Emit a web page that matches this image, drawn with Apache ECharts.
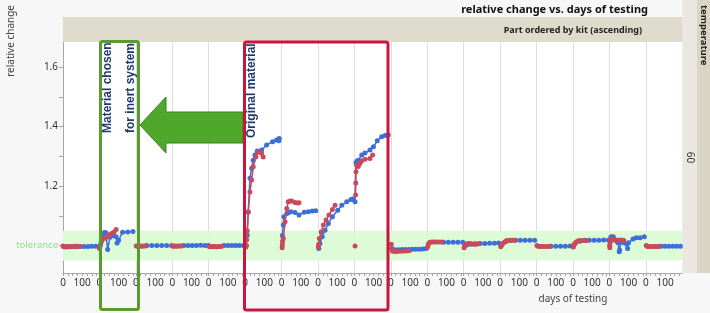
<!DOCTYPE html>
<html>
<head>
<meta charset="utf-8">
<script src="https://cdn.jsdelivr.net/npm/echarts@6/dist/echarts.min.js"></script>
<style>
html,body{margin:0;padding:0;background:#f7f7f7;}
#chart{width:710px;height:313px;}
</style>
</head>
<body>
<div id="chart"></div>
<script>
// ---------------- data ----------------
const titleText = 'relative change vs. days of testing';
const stripTitle = 'Part ordered by kit (ascending)';
const rowHeader = 'temperature';
const rowLabel = '60';
const yAxisTitle = 'relative change';
const xAxisTitle = 'days of testing';
const xTickLabels = [0, 100];
const xTickMarks = [0, 25, 50, 75, 100, 125, 150, 175];
const yTickLabels = [1.0, 1.2, 1.4, 1.6];
const yTickMarks = [1.0, 1.1, 1.2, 1.3, 1.4, 1.5, 1.6];
const toleranceLabel = 'tolerance';
const toleranceLow = 0.95;
const toleranceHigh = 1.05;
const dayMax = 190;
const yMin = 0.908, yMax = 1.684;

// blue series, one list of [day, relative change] per panel
const blueSeries = [
  [[5,0.997],[25,0.996],[40,0.996],[55,0.997],[70,0.996],[90,0.997],[110,0.997],[130,0.997],[150,0.998],[170,0.998]],
  [[0,0.998],[8,1.01],[18,1.038],[26,1.044],[33,1.043],[43,0.987],[55,1.028],[70,1.033],[87,1.03],[92,1.009],[100,1.018],[121,1.045],[148,1.046],[175,1.047]],
  [[57,1.0],[83,1.0],[109,1.0],[135,1.0],[161,1.0],[187,1.0]],
  [[60,1.0],[82,1.0],[104,1.0],[126,1.0],[148,1.001],[170,1.0],[188,1.0]],
  [[80,1.0],[100,1.0],[120,1.0],[140,1.0],[160,1.0],[180,1.0]],
  [[5,1.0],[11,1.035],[16,1.113],[25,1.226],[34,1.26],[42,1.287],[51,1.304],[63,1.318],[86,1.321],[112,1.338],[143,1.349],[164,1.355],[176,1.352],[178,1.36]],
  [[4,1.034],[9,1.069],[12,1.097],[27,1.108],[35,1.11],[49,1.114],[70,1.111],[91,1.103],[118,1.112],[139,1.114],[160,1.116],[178,1.117]],
  [[4,0.99],[10,1.007],[22,1.03],[37,1.052],[54,1.074],[75,1.097],[103,1.119],[124,1.136],[150,1.147],[172,1.155],[181,1.157]],
  [[3,1.147],[8,1.278],[14,1.284],[20,1.287],[38,1.304],[55,1.311],[81,1.321],[99,1.332],[119,1.352],[142,1.366],[160,1.37],[176,1.372]],
  [[5,0.99],[22,0.986],[40,0.986],[58,0.987],[76,0.987],[94,0.987],[112,0.988],[130,0.988],[150,0.988],[168,0.989],[185,0.99]],
  [[85,1.011],[110,1.011],[135,1.011],[160,1.011],[185,1.011]],
  [[15,1.002],[35,1.005],[60,1.006],[85,1.007],[110,1.007],[135,1.008],[160,1.008],[182,1.009]],
  [[10,1.005],[30,1.013],[55,1.017],[80,1.018],[105,1.018],[130,1.018],[155,1.018],[180,1.018]],
  [[75,0.998],[100,0.998],[125,0.998],[150,0.998],[175,0.999]],
  [[10,1.006],[35,1.015],[60,1.018],[85,1.018],[110,1.018],[135,1.018],[160,1.019],[185,1.019]],
  [[3,1.02],[8,1.03],[14,1.028],[20,1.03],[28,1.02],[38,1.015],[45,1.01],[51,0.979],[53,0.985],[60,1.012],[75,1.01],[90,1.005],[95,0.99],[100,1.01],[123,1.022],[140,1.026],[160,1.026],[182,1.03]],
  [[80,0.998],[100,0.998],[120,0.998],[140,0.998],[160,0.998],[180,0.998]]
];

// red series, one list of [day, relative change] per panel
const redSeries = [
  [[0,0.999],[4,0.996],[8,0.997],[15,0.995],[25,0.996],[35,0.997],[48,0.996],[60,0.998],[75,0.998],[90,0.997]],
  [[0,0.99],[5,1.0],[12,1.018],[24,1.024],[35,1.028],[46,1.032],[55,1.037],[64,1.041],[75,1.045],[87,1.054]],
  [[2,0.999],[8,0.998],[15,0.999],[22,0.999],[30,0.998],[40,0.999],[50,0.999]],
  [[0,0.999],[6,0.998],[14,0.999],[22,0.998],[30,0.999],[40,0.999],[48,0.999]],
  [[2,0.997],[8,0.996],[15,0.997],[22,0.996],[30,0.997],[40,0.996],[50,0.997],[60,0.997],[68,0.998]],
  [[4,0.995],[6,1.0],[8,1.02],[11,1.05],[16,1.113],[25,1.18],[34,1.22],[42,1.265],[56,1.298],[68,1.315],[80,1.313],[86,1.31],[94,1.298]],
  [[3,0.993],[4,1.003],[5,1.015],[9,1.024],[18,1.08],[27,1.125],[35,1.147],[44,1.15],[53,1.15],[70,1.145],[82,1.143],[91,1.144]],
  [[2,0.996],[4,1.005],[7,1.024],[16,1.046],[28,1.069],[42,1.086],[57,1.103],[75,1.121],[89,1.136]],
  [[3,0.999],[5,'-'],[6,1.17],[7,1.21],[8,1.248],[12,1.27],[20,1.266],[29,1.276],[38,1.285],[55,1.29],[81,1.293],[95,1.304]],
  [[2,1.005],[4,0.99],[8,0.982],[15,0.981],[25,0.98],[35,0.981],[50,0.981],[65,0.982],[80,0.982],[95,0.983]],
  [[2,0.995],[5,1.004],[9,1.009],[15,1.011],[25,1.012],[35,1.012],[48,1.012],[60,1.012],[75,1.012]],
  [[2,0.993],[5,1.0],[10,1.004],[18,1.006],[28,1.007],[40,1.006],[52,1.005],[65,1.005],[78,1.006]],
  [[3,0.996],[8,1.002],[15,1.008],[25,1.013],[35,1.017],[50,1.018],[65,1.018],[78,1.018]],
  [[2,1.0],[8,0.998],[15,0.997],[25,0.997],[35,0.997],[48,0.997],[60,0.997],[70,0.998]],
  [[2,0.995],[5,1.003],[10,1.008],[18,1.013],[28,1.016],[40,1.017],[55,1.017],[70,1.017]],
  [[1,1.0],[2,0.993],[3,1.01],[5,1.02],[9,1.017],[14,1.02],[20,1.022],[28,1.02],[38,1.018],[48,1.018],[58,1.019],[68,1.018],[75,1.017]],
  [[2,1.0],[8,0.997],[15,0.997],[25,0.997],[35,0.997],[48,0.997],[60,0.997],[70,0.998]]
];

// ---------------- layout / style ----------------
const PL = 63, PR = 682.3, PT = 42, PB = 273;
const N = blueSeries.length;
const PW = (PR - PL) / N;
const BLUE = '#3d6fd8', RED = '#c94a5c';
const FONT = 'Noto Sans';
const AXIS_GREY = '#a6a6a6';

const chart = echarts.init(document.getElementById('chart'), null, {renderer: 'canvas'});

const grids = [], xAxes = [], yAxes = [], series = [];
for (let i = 0; i < N; i++) {
  grids.push({left: PL + i * PW, width: PW, top: PT, height: PB - PT,
    show: true, backgroundColor: '#ffffff', borderWidth: 0, outerBoundsMode: 'none', containLabel: false});
  xAxes.push({type: 'value', gridIndex: i, min: 0, max: dayMax,
    axisLine: {show: true, lineStyle: {color: AXIS_GREY, width: 1}},
    axisTick: {show: true, length: 3, customValues: xTickMarks, lineStyle: {color: AXIS_GREY}},
    axisLabel: {show: true, customValues: xTickLabels, margin: 5, color: '#333', fontSize: 10, fontFamily: FONT},
    splitLine: {show: false}});
  yAxes.push({type: 'value', gridIndex: i, min: yMin, max: yMax,
    axisLine: {show: true, lineStyle: {color: i === 0 ? AXIS_GREY : '#dedede', width: 1}},
    axisTick: {show: i === 0, length: 4, customValues: yTickMarks, lineStyle: {color: AXIS_GREY}},
    axisLabel: {show: i === 0, customValues: yTickLabels, margin: 5, color: '#333', fontSize: 10, fontFamily: FONT,
      formatter: v => (Math.abs(v - 1) < 1e-9 ? '{tol|' + toleranceLabel + '}' : v.toFixed(1)),
      rich: {tol: {color: '#8be08a', fontSize: 9.5, fontFamily: FONT}}},
    splitLine: {show: false}});
  series.push({type: 'line', xAxisIndex: i, yAxisIndex: i, data: blueSeries[i],
    symbol: 'circle', symbolSize: 5, showSymbol: true, connectNulls: false,
    lineStyle: {color: BLUE, width: 1.5}, itemStyle: {color: BLUE},
    silent: true, animation: false, z: 3,
    markArea: {silent: true, itemStyle: {color: '#dcfbd6'},
      data: [[{xAxis: 0, yAxis: toleranceLow}, {xAxis: dayMax, yAxis: toleranceHigh}]]}});
  series.push({type: 'line', xAxisIndex: i, yAxisIndex: i, data: redSeries[i],
    symbol: 'circle', symbolSize: 5, showSymbol: true, connectNulls: false,
    lineStyle: {color: RED, width: 1.5}, itemStyle: {color: RED},
    silent: true, animation: false, z: 4});
}

const graphic = [
  // right strips
  {type: 'rect', z: 1, shape: {x: PR, y: 0, width: 14.5, height: PB}, style: {fill: '#e9e7df'}},
  {type: 'rect', z: 1, shape: {x: PR + 14.5, y: 0, width: 710 - PR - 14.5, height: PB}, style: {fill: '#d9d5c5'}},
  {type: 'text', z: 101, x: 703.5, y: 5, rotation: -Math.PI / 2,
    style: {text: rowHeader, fontSize: 9.5, fontWeight: 'bold', fontFamily: FONT, fill: '#222', textAlign: 'left', textVerticalAlign: 'middle'}},
  {type: 'text', z: 101, x: 690, y: (PT + PB) / 2, rotation: -Math.PI / 2,
    style: {text: rowLabel, fontSize: 10, fontFamily: FONT, fill: '#333', textAlign: 'center', textVerticalAlign: 'middle'}},
  // annotation texts
  {type: 'text', z: 100, x: 108, y: 133, rotation: Math.PI / 2,
    style: {text: 'Material chosen', fontSize: 12, fontWeight: 'bold', fontFamily: 'Liberation Sans', fill: '#1f3b6e', textAlign: 'left', textVerticalAlign: 'middle'}},
  {type: 'text', z: 100, x: 130.5, y: 133, rotation: Math.PI / 2,
    style: {text: 'for inert system', fontSize: 12, fontWeight: 'bold', fontFamily: 'Liberation Sans', fill: '#1f3b6e', textAlign: 'left', textVerticalAlign: 'middle'}},
  {type: 'text', z: 100, x: 252, y: 138, rotation: Math.PI / 2,
    style: {text: 'Original material', fontSize: 12, fontWeight: 'bold', fontFamily: 'Liberation Sans', fill: '#1f3b6e', textAlign: 'left', textVerticalAlign: 'middle'}},
  // header band
  {type: 'rect', z: 102, shape: {x: PL, y: 17, width: PR - PL, height: PT - 17}, style: {fill: '#dedbcc'}},
  {type: 'text', z: 103, x: 642, y: 30.5,
    style: {text: stripTitle, fontSize: 9, fontWeight: 'bold', fontFamily: FONT, fill: '#222', textAlign: 'right', textVerticalAlign: 'middle'}},
  // title
  {type: 'text', z: 103, x: 648, y: 9.5,
    style: {text: titleText, fontSize: 11, fontWeight: 'bold', fontFamily: FONT, fill: '#111', textAlign: 'right', textVerticalAlign: 'middle'}},
  // axis titles
  {type: 'text', z: 103, x: 11, y: 5, rotation: Math.PI / 2,
    style: {text: yAxisTitle, fontSize: 10, fontFamily: FONT, fill: '#444', textAlign: 'right', textVerticalAlign: 'middle'}},
  {type: 'text', z: 103, x: 573, y: 299,
    style: {text: xAxisTitle, fontSize: 10, fontFamily: FONT, fill: '#444', textAlign: 'center', textVerticalAlign: 'middle'}},
  // arrow
  {type: 'polygon', z: 104,
    shape: {points: [[140, 125], [166, 97], [166, 112], [243, 112], [243, 143], [166, 143], [166, 153]]},
    style: {fill: '#4fa82a', stroke: '#3c7f20', lineWidth: 1}},
  // boxes
  {type: 'rect', z: 105, shape: {x: 100.5, y: 41.5, width: 38, height: 268, r: 2},
    style: {fill: 'none', stroke: '#5b9a31', lineWidth: 3}},
  {type: 'rect', z: 105, shape: {x: 244.5, y: 42, width: 143.5, height: 268, r: 2},
    style: {fill: 'none', stroke: '#c9163f', lineWidth: 3}}
];

chart.setOption({
  backgroundColor: '#f7f7f7',
  animation: false,
  grid: grids,
  xAxis: xAxes,
  yAxis: yAxes,
  series: series,
  graphic: graphic
});
</script>
</body>
</html>
